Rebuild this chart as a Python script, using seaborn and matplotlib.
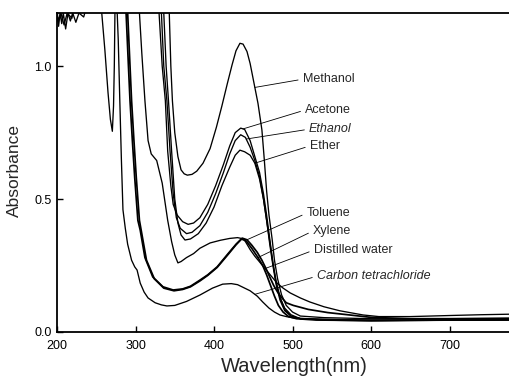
import numpy as np
import pandas as pd
import matplotlib
matplotlib.use("Agg")
import matplotlib.pyplot as plt
import seaborn as sns

# Absorption spectra, wavelength (nm) vs absorbance, one pair of lists per solvent
water_wl = [200, 202, 204, 206, 208, 211, 214, 217, 220, 224, 228, 234, 240, 257, 261, 265, 268, 270.5, 272, 273,
            274, 300, 305, 308, 312, 316, 320, 327, 334, 341, 346, 350, 354, 358, 365, 374, 382, 395, 408, 420,
            430, 438, 446, 452, 459, 466, 473, 480, 488, 497, 510, 522, 540, 560, 573, 590, 610, 650, 700, 740, 777]
water_A = [1.2, 1.15, 1.2, 1.16, 1.2, 1.14, 1.2, 1.17, 1.2, 1.165, 1.2, 1.185, 1.25, 1.2, 1.06, 0.9, 0.8, 0.755, 0.85, 1.0,
           1.25, 1.25, 1.2, 1.05, 0.87, 0.72, 0.67, 0.645, 0.56, 0.42, 0.34, 0.29, 0.26, 0.265, 0.28, 0.295, 0.315, 0.335, 0.345, 0.352,
           0.355, 0.35, 0.31, 0.285, 0.26, 0.235, 0.21, 0.185, 0.165, 0.147, 0.128, 0.113, 0.095, 0.08, 0.073, 0.064, 0.058, 0.058, 0.062, 0.065, 0.067]

ccl4_wl = [200, 201, 205, 209, 213, 219, 223, 276, 278, 280, 282, 284, 287, 290, 295, 299, 302,
           306, 311, 316, 325, 333, 340, 350, 365, 382, 398, 411, 422, 430, 437, 446, 455, 462, 470, 477, 484,
           492, 501, 520, 560, 600, 700, 777]
ccl4_A = [1.25, 1.17, 1.2, 1.155, 1.2, 1.18, 1.25, 1.25, 1.1, 0.87, 0.65, 0.46, 0.39, 0.33, 0.27, 0.245, 0.233,
          0.184, 0.15, 0.128, 0.11, 0.102, 0.098, 0.1, 0.115, 0.139, 0.165, 0.18, 0.182, 0.178, 0.168, 0.155, 0.135, 0.113, 0.09, 0.075, 0.064,
          0.058, 0.053, 0.05, 0.047, 0.045, 0.045, 0.046]

tol_wl = [200, 286, 288, 291, 293, 296, 299, 303, 306, 312, 322, 335, 348, 360, 370, 382, 392, 404, 418, 428,
          436, 442, 448, 455, 461, 466, 471, 476, 481, 486, 492, 501, 520, 545, 573, 600, 650, 700, 777]
tol_A = [1.25, 1.25, 1.2, 1.0, 0.87, 0.72, 0.58, 0.42, 0.383, 0.28, 0.207, 0.17, 0.158, 0.162, 0.172, 0.195, 0.215, 0.245, 0.295, 0.33,
         0.353, 0.347, 0.327, 0.3, 0.27, 0.24, 0.207, 0.175, 0.15, 0.13, 0.11, 0.1, 0.085, 0.073, 0.064, 0.055, 0.05, 0.05, 0.052]

xyl_wl = [200, 288, 290, 293, 295, 298, 301, 305, 308, 314, 324, 336, 349, 360, 370, 382, 392, 404, 418, 428,
          435, 441, 448, 456, 462, 467, 472, 477, 482, 488, 495, 505, 530, 600, 700, 777]
xyl_A = [1.25, 1.25, 1.2, 1.0, 0.87, 0.72, 0.58, 0.42, 0.37, 0.27, 0.2, 0.165, 0.155, 0.16, 0.17, 0.192, 0.213, 0.243, 0.292, 0.328,
         0.35, 0.342, 0.315, 0.28, 0.25, 0.215, 0.175, 0.135, 0.1, 0.075, 0.058, 0.05, 0.045, 0.043, 0.045, 0.046]

meoh_wl = [200, 340, 343, 345, 347, 350, 354, 358, 362, 366, 372, 378, 386, 395, 403, 410, 417, 423, 428, 433,
           437, 442, 446, 452, 456, 461, 464, 467, 470, 474, 477, 481, 486, 492, 500, 510, 540, 600, 700, 777]
meoh_A = [1.25, 1.25, 1.2, 1.0, 0.87, 0.75, 0.66, 0.61, 0.595, 0.59, 0.593, 0.605, 0.635, 0.69, 0.77, 0.85, 0.935, 1.005, 1.058, 1.086,
          1.083, 1.055, 1.01, 0.92, 0.86, 0.76, 0.65, 0.53, 0.44, 0.35, 0.27, 0.2, 0.14, 0.1, 0.075, 0.06, 0.054, 0.05, 0.05, 0.05]

acet_wl = [200, 327, 330, 334, 338, 341, 345, 348, 353, 360, 367, 374, 382, 392, 402, 412, 420, 427, 434, 439,
           446, 452, 458, 463, 467, 471, 475, 479, 484, 490, 498, 510, 550, 600, 700, 777]
acet_A = [1.25, 1.25, 1.2, 1.0, 0.87, 0.68, 0.55, 0.48, 0.44, 0.415, 0.405, 0.41, 0.43, 0.48, 0.55, 0.63, 0.7, 0.75, 0.767, 0.762,
          0.72, 0.66, 0.6, 0.52, 0.44, 0.35, 0.26, 0.19, 0.13, 0.09, 0.065, 0.05, 0.045, 0.043, 0.045, 0.046]

etoh_wl = [200, 330, 333, 336, 340, 344, 348, 352, 357, 365, 372, 382, 392, 402, 412, 420, 427, 434, 440, 446,
           452, 458, 463, 467, 471, 475, 479, 484, 490, 498, 510, 550, 600, 700, 777]
etoh_A = [1.25, 1.25, 1.2, 1.0, 0.87, 0.68, 0.52, 0.43, 0.39, 0.37, 0.375, 0.4, 0.45, 0.52, 0.6, 0.67, 0.72, 0.742, 0.732, 0.695,
          0.645, 0.585, 0.5, 0.42, 0.33, 0.25, 0.18, 0.12, 0.08, 0.06, 0.05, 0.045, 0.044, 0.046, 0.047]

ether_wl = [200, 333, 336, 339, 342, 346, 350, 354, 358, 363, 370, 380, 390, 400, 410, 420, 427, 433, 439, 446,
            452, 458, 463, 467, 471, 475, 479, 484, 490, 498, 510, 550, 600, 700, 777]
ether_A = [1.25, 1.25, 1.2, 1.0, 0.87, 0.68, 0.5, 0.41, 0.365, 0.346, 0.35, 0.37, 0.41, 0.47, 0.55, 0.62, 0.665, 0.684, 0.678, 0.665,
           0.635, 0.575, 0.5, 0.42, 0.34, 0.26, 0.19, 0.13, 0.085, 0.06, 0.05, 0.044, 0.042, 0.044, 0.045]

solvents = ["Methanol", "Acetone", "Ethanol", "Ether", "Toluene", "Xylene", "Distilled water", "Carbon tetrachloride"]
spectra = {
    "Methanol": (meoh_wl, meoh_A),
    "Acetone": (acet_wl, acet_A),
    "Ethanol": (etoh_wl, etoh_A),
    "Ether": (ether_wl, ether_A),
    "Toluene": (tol_wl, tol_A),
    "Xylene": (xyl_wl, xyl_A),
    "Distilled water": (water_wl, water_A),
    "Carbon tetrachloride": (ccl4_wl, ccl4_A),
}

x_ticks = [200, 300, 400, 500, 600, 700]
y_ticks = [0.0, 0.5, 1.0]

frames = [pd.DataFrame({"wavelength": w, "absorbance": a, "solvent": s})
          for s, (w, a) in spectra.items()]
df = pd.concat(frames, ignore_index=True)

sns.set_theme(style="ticks")
plt.rcParams["font.family"] = ["Liberation Sans", "DejaVu Sans"]

fig = plt.figure(figsize=(5.10, 3.83), dpi=100)
ax = fig.add_axes([57 / 510, 51 / 383, 453 / 510, 319 / 383])

for s in solvents:
    sub = df[df["solvent"] == s]
    lw = 1.25 if s in ("Toluene", "Xylene") else 0.95
    sns.lineplot(data=sub, x="wavelength", y="absorbance", sort=False, estimator=None,
                 color="black", linewidth=lw, ax=ax, legend=False)

ax.set_xlim(200, 777)
ax.set_ylim(0, 1.2)
ax.set_xticks(x_ticks)
ax.set_xticklabels([str(t) for t in x_ticks])
ax.set_yticks(y_ticks)
ax.set_yticklabels([f"{t:.1f}" for t in y_ticks])
ax.tick_params(direction="in", length=4, width=1.0, labelsize=9, colors="black")
ax.tick_params(axis="x", pad=6)
ax.tick_params(axis="y", pad=4)
for side in ("left", "bottom", "top"):
    ax.spines[side].set_linewidth(1.3)
    ax.spines[side].set_color("black")
ax.spines["right"].set_visible(False)

ax.set_xlabel("Wavelength(nm)", fontsize=14.5)
ax.set_ylabel("Absorbance", fontsize=12.5)
ax.xaxis.set_label_coords(0.523, -0.078)
ax.yaxis.set_label_coords(-0.077, 0.505)

# Leader-line labels: (text position, wavelength where the line meets the curve, italic?)
labels = {
    "Methanol": ((513, 0.951), 452, False),
    "Acetone": ((516, 0.835), 437, False),
    "Ethanol": ((521, 0.763), 441, True),
    "Ether": ((522, 0.700), 452, False),
    "Toluene": ((518, 0.447), 442, False),
    "Xylene": ((526, 0.380), 456, False),
    "Distilled water": ((527, 0.308), 465, False),
    "Carbon tetrachloride": ((531, 0.210), 452, True),
}
for s, ((tx, ty), wl_hit, italic) in labels.items():
    w, a = spectra[s]
    y_hit = float(np.interp(wl_hit, w, a))
    ax.annotate(s, xy=(wl_hit, y_hit), xytext=(tx, ty), fontsize=9,
                style="italic" if italic else "normal", ha="left", va="center",
                arrowprops=dict(arrowstyle="-", lw=0.6, color="black",
                                shrinkA=1, shrinkB=0, relpos=(0, 0.5)))

fig.savefig("out.png", dpi=100)
